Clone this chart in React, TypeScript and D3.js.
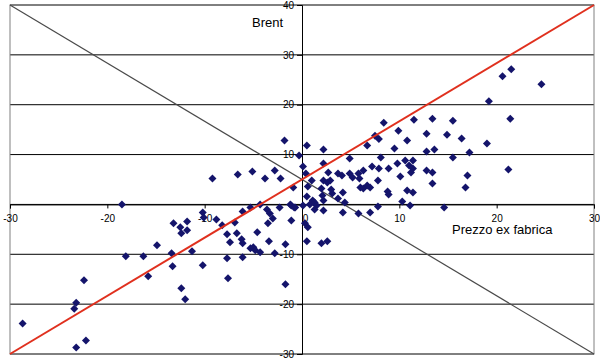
import React, { useEffect, useRef } from "react";
import * as d3 from "d3";

// Prezzo ex fabrica (x) vs Brent (y), monthly % changes
const xValues = [
  21.5, 20.6, 24.6, 19.2, 8.4, 11.5, 13.4, 15.5, 21.4,
  9.9, 12.8, 14.9, 10.8, 16.4, 19.0, 7.5, 7.9, 6.7,
  9.5, 12.8, 13.6, 17.2, 15.5, 8.1, 10.6, 11.4, 9.8, 11.0, 11.4, 7.9, 8.9,
  11.2, 12.8, 13.4, 21.2, 10.1, 17.0, 13.4, 16.8, 10.8, 11.4, 10.3, 11.1, 14.6,
  0.5, 2.2, -0.3, 4.9, 2.2, 0.1, 7.2, 2.7, 3.7, 4.1, 4.9, 5.2, 5.8, 6.3, 5.9, 7.8,
  1.0, 2.2, 2.6, 2.9, 0.6, 2.0, 3.0, 4.2, 3.1, 6.0, 6.3, 6.7, 7.0, 8.8, 8.9,
  0.5, 2.1, 3.7, 4.4, 1.1, 1.3, 2.2, 0.8, 1.5, 0.1, -1.1, -0.7, 1.3, 2.2, 4.2,
  5.8, 7.0, 7.8, 0.3, 0.6, 0.5, 2.0, 2.6,
  -1.8, -6.6, -5.1, -2.8, -9.2, -3.8, -2.2, 0.4, -0.9,
  -10.2, -10.1, -8.8, -13.2, -12.5, -11.8, -11.8, -12.4, -8.2, -6.9, -6.1, -5.3,
  -4.3, -3.6, -3.3, -3.0, -2.3, -1.2, -0.8, -1.1, -3.5, -4.6, -3.4, -7.7, -7.4,
  -6.7, -6.2, -6.1, -5.3, -5.0, -4.8, -4.3, -6.1, -7.7, -2.8, -1.7, -11.3, -14.9,
  -13.4, -13.3, -10.2, -7.6, -12.4, -1.7,
  -28.7, -23.2, -22.2, -23.4, -23.2, -22.4, -18.1, -16.3, -15.8, -12.0, -18.5,
];
const yValues = [
  27.1, 25.7, 24.1, 20.7, 16.4, 17.0, 17.2, 16.8, 17.2,
  14.8, 14.2, 14.0, 12.8, 13.2, 12.2, 13.8, 13.1, 11.8,
  11.2, 10.6, 11.0, 10.4, 9.4, 9.4, 8.8, 8.8, 8.2, 7.8, 7.2, 7.2, 7.2,
  6.4, 6.8, 6.4, 7.0, 5.6, 5.8, 4.2, 3.4, 2.8, 2.4, 0.6, -0.2, -0.6,
  11.8, 11.0, 9.8, 9.2, 8.2, 7.6, 7.6, 6.4, 6.2, 5.8, 6.2, 5.4, 6.2, 6.8, 5.2, 4.8,
  4.8, 4.8, 4.4, 4.8, 3.6, 3.2, 3.0, 2.4, 2.2, 3.4, 3.2, 3.8, 3.4, 2.6, 2.0,
  1.6, 1.8, 1.2, 0.4, 0.8, 0.4, 0.8, 0.0, -0.2, -0.2, -0.2, -0.6, -1.0, -1.2, -1.6,
  -1.8, -1.6, -0.4, -3.8, -4.6, -7.4, -7.8, -7.4,
  12.8, 6.0, 6.6, 6.8, 5.2, 5.2, 5.2, 6.2, 3.4,
  -1.6, -2.6, -3.0, -3.8, -4.6, -3.4, -5.2, -5.8, -4.2, -3.6, -1.4, -0.6,
  0.0, -1.0, -1.8, -2.8, -0.6, 0.0, -0.6, -3.2, -3.8, -5.6, -7.4, -6.0, -7.6,
  -5.8, -7.0, -7.8, -8.8, -8.6, -9.2, -9.6, -10.6, -10.8, -9.8, -8.0, -9.4, -8.2,
  -9.8, -12.4, -12.2, -14.8, -16.8, -16.0,
  -23.9, -28.7, -27.3, -20.9, -19.7, -15.2, -10.4, -10.4, -14.4, -19.0, 0.0,
];

const xTicks = [-30, -20, -10, 0, 10, 20, 30];
const yTicks = [40, 30, 20, 10, 0, -10, -20, -30];
const redLine = [[-30, -30], [30, 40]];
const greyLine = [[-30, 40], [30, -30]];

const App = () => {
  const svgEl = useRef(null);

  useEffect(() => {
    document.body.style.margin = "0";
    if (!svgEl.current) return;
    drawChart(svgEl.current);
  }, [svgEl]);

  return <svg ref={svgEl} width={600} height={362} style={{ display: "block" }}></svg>;
};

function drawChart(svgNode) {
  const svg = d3.select(svgNode);
  svg.selectAll("*").remove();

  const left = 10, right = 594, top = 5, bottom = 354;
  const x = d3.scaleLinear().domain([-30, 30]).range([left, right]);
  const y = d3.scaleLinear().domain([-30, 40]).range([bottom, top]);
  const font = "'Liberation Sans', Arial, sans-serif";
  const fmt = (d) => String(d);

  svg.append("rect").attr("width", 600).attr("height", 362).attr("fill", "#fff");

  // gridlines
  svg
    .append("g")
    .selectAll("line")
    .data(yTicks)
    .join("line")
    .attr("x1", left)
    .attr("x2", right)
    .attr("y1", (d) => y(d))
    .attr("y2", (d) => y(d))
    .attr("stroke", "#000")
    .attr("stroke-width", 1);

  // plot border
  svg
    .append("rect")
    .attr("x", left)
    .attr("y", top)
    .attr("width", right - left)
    .attr("height", bottom - top)
    .attr("fill", "none")
    .attr("stroke", "#808080")
    .attr("stroke-width", 1);

  const line = d3.line().x((d) => x(d[0])).y((d) => y(d[1]));

  svg
    .append("path")
    .datum(greyLine)
    .attr("d", line)
    .attr("fill", "none")
    .attr("stroke", "#4a4a4a")
    .attr("stroke-width", 1.2);

  // axes through origin
  const xAxis = svg
    .append("g")
    .attr("transform", `translate(0,${y(0)})`)
    .call(d3.axisBottom(x).tickValues(xTicks).tickSize(4).tickPadding(6).tickFormat(fmt));
  xAxis.select(".domain").attr("stroke", "#000");
  xAxis.selectAll("text").attr("font-family", font).attr("font-size", 10).attr("fill", "#000");
  xAxis.selectAll(".tick").filter((d) => d === 0).select("text").attr("dx", 3);

  const yAxis = svg
    .append("g")
    .attr("transform", `translate(${x(0)},0)`)
    .call(d3.axisLeft(y).tickValues(yTicks).tickSize(5).tickPadding(3).tickFormat(fmt));
  yAxis.select(".domain").attr("stroke", "#000");
  yAxis.selectAll("text").attr("font-family", font).attr("font-size", 10).attr("fill", "#000");
  yAxis.selectAll(".tick").filter((d) => d === 0).select("text").remove();

  // data points
  const diamond = "M0,-4L4,0L0,4L-4,0Z";
  svg
    .append("g")
    .selectAll("path")
    .data(xValues.map((v, i) => [v, yValues[i]]))
    .join("path")
    .attr("d", diamond)
    .attr("transform", (d) => `translate(${x(d[0])},${y(d[1])})`)
    .attr("fill", "#14146b");

  svg
    .append("path")
    .datum(redLine)
    .attr("d", line)
    .attr("fill", "none")
    .attr("stroke", "#e0301e")
    .attr("stroke-width", 2);

  svg
    .append("text")
    .attr("x", 252)
    .attr("y", 27)
    .attr("font-family", font)
    .attr("font-size", 13)
    .text("Brent");

  svg
    .append("text")
    .attr("x", 452)
    .attr("y", 234)
    .attr("font-family", font)
    .attr("font-size", 13)
    .text("Prezzo ex fabrica");
}

export default App;
